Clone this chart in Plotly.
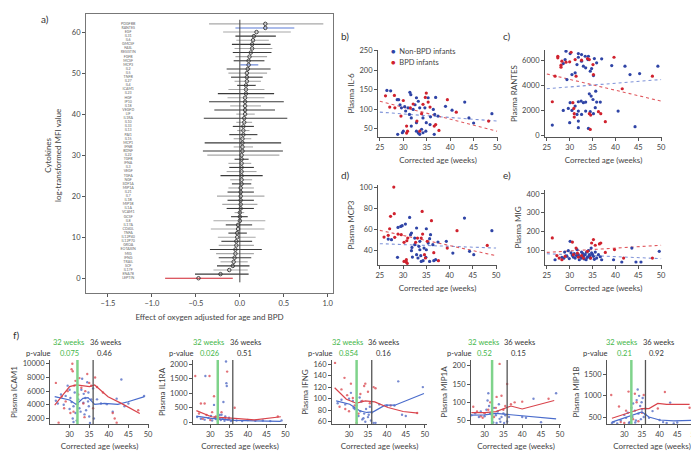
import plotly.graph_objects as go

W, H = 699, 454
FONT = "Lato"
BLUE = "#2f44a6"
RED = "#d0222e"
GREEN = "#43b649"

# ---------------- panel a: effect estimates per cytokine (bottom -> top)
cytokines = ["LEPTIN", "ENA78", "IL17F", "SCF", "TRAIL", "IFNG", "MIG", "EOTAXIN", "GROA",
             "IL12P70", "IL12P40", "TNFA", "CD40L", "IL17A", "IL8", "GCSF", "VCAM1", "IL1A",
             "MIP1B", "IL1B", "IL7", "IL21", "MIP1A", "SDF1A", "NGF", "TGFA", "VEGF", "IL3",
             "IFNA", "TGFB", "IL22", "BDNF", "IFNB", "MCP1", "IL15", "PAI1", "IL13", "IL33",
             "IL10", "IL1RA", "LIF", "VEGFD", "IL18", "IP10", "HGF", "IL23", "ICAM1", "IL4",
             "IL27", "TNFB", "IL5", "IL2", "MCP3", "MCSF", "FGFB", "RESISTIN", "FASL", "GMCSF",
             "IL6", "IL31", "EGF", "RANTES", "PDGFBB"]
estimate = [-0.47, -0.22, -0.12, -0.08, -0.07, -0.06, -0.05, -0.05, -0.04, -0.04, -0.03, -0.03,
            -0.02, -0.02, 0.00, 0.00, 0.00, 0.01, 0.01, 0.01, 0.01, 0.01, 0.01, 0.02, 0.02, 0.02,
            0.02, 0.02, 0.02, 0.02, 0.02, 0.03, 0.03, 0.03, 0.03, 0.04, 0.04, 0.04, 0.05, 0.05,
            0.06, 0.06, 0.06, 0.06, 0.06, 0.07, 0.07, 0.07, 0.08, 0.08, 0.08, 0.09, 0.10, 0.10,
            0.11, 0.125, 0.14, 0.14, 0.15, 0.16, 0.19, 0.29, 0.29]
ci_low = [-0.85, -0.51, -0.30, -0.26, -0.22, -0.24, -0.27, -0.34, -0.24, -0.21, -0.25, -0.13,
          -0.33, -0.16, -0.30, -0.10, -0.06, -0.15, -0.20, -0.14, -0.26, -0.14, -0.13, -0.09,
          -0.11, -0.22, -0.15, -0.12, -0.13, -0.06, -0.37, -0.42, -0.07, -0.40, -0.07, -0.12,
          -0.03, -0.08, -0.04, -0.41, -0.04, -0.29, -0.11, -0.35, -0.14, -0.25, -0.13, -0.03,
          -0.06, -0.10, -0.13, -0.15, 0.005, -0.07, -0.05, -0.08, -0.06, -0.09, -0.04, -0.05,
          -0.19, -0.05, -0.35]
ci_high = [-0.08, 0.10, 0.09, 0.11, 0.09, 0.13, 0.16, 0.25, 0.16, 0.14, 0.18, 0.08, 0.28, 0.14,
           0.29, 0.09, 0.05, 0.16, 0.20, 0.16, 0.28, 0.16, 0.16, 0.13, 0.14, 0.26, 0.19, 0.16,
           0.13, 0.10, 0.45, 0.49, 0.15, 0.47, 0.13, 0.20, 0.11, 0.16, 0.14, 0.54, 0.17, 0.40,
           0.24, 0.50, 0.28, 0.39, 0.28, 0.18, 0.24, 0.26, 0.31, 0.35, 0.21, 0.28, 0.31, 0.36,
           0.37, 0.35, 0.33, 0.41, 0.58, 0.62, 0.95]

# ---------------- panels b-e: plasma level vs corrected age  [age, value]
il6_nonbpd = [[26.5, 148], [27.3, 147], [28.7, 124], [29.0, 124], [29.3, 111], [29.6, 103], [30.3, 106],
              [31.4, 143], [31.6, 137], [31.0, 103], [32.5, 111], [32.1, 99], [31.3, 86], [31.7, 77],
              [32.8, 129], [33.2, 120], [33.5, 103], [34.6, 103], [34.2, 77], [35.3, 129], [34.9, 65],
              [32.8, 65], [31.7, 56], [30.0, 43], [29.8, 39], [28.8, 35], [32.8, 43], [33.2, 38],
              [33.5, 35], [34.2, 39], [34.8, 43], [35.7, 60], [36.4, 99], [36.7, 86], [36.6, 35],
              [37.4, 82], [36.9, 130], [39.0, 107], [40.4, 97], [43.1, 118], [44.0, 77], [45.0, 64],
              [48.9, 88], [33.9, 48], [30.5, 95], [35.8, 80]]
il6_bpd = [[26.2, 134], [27.1, 105], [28.1, 135], [28.2, 103], [29.5, 82], [30.0, 122], [30.7, 56],
           [30.7, 38], [30.9, 43], [31.5, 103], [32.1, 113], [32.9, 69], [33.5, 43], [34.2, 112],
           [34.7, 130], [34.9, 141], [35.3, 118], [35.7, 105], [36.6, 56], [36.9, 60], [37.6, 45],
           [39.4, 124], [41.3, 92], [48.2, 69], [33.9, 88]]
rantes_nonbpd = [[29.2, 6720], [30.1, 6530], [31.9, 6530], [31.9, 6240], [32.6, 6450], [33.4, 6320],
                 [34.1, 6320], [34.0, 6050], [32.6, 5920], [35.4, 6130], [35.9, 5790], [37.0, 6110],
                 [29.0, 6050], [28.6, 5730], [31.6, 5650], [33.0, 5520], [33.5, 5390], [34.8, 5330],
                 [34.5, 5120], [35.2, 4770], [30.5, 4850], [31.2, 4990], [29.4, 4450], [39.2, 5570],
                 [42.1, 5520], [43.2, 4850], [45.3, 4930], [49.3, 5520], [34.3, 3300], [34.7, 3120],
                 [35.1, 2850], [32.5, 2720], [33.0, 2590], [33.5, 2640], [30.1, 2590], [31.2, 2320],
                 [31.9, 2670], [29.7, 2130], [28.6, 1970], [30.5, 1970], [31.9, 1920], [33.5, 1920],
                 [34.5, 1870], [35.2, 1710], [35.9, 2640], [36.7, 2640], [35.6, 2190], [40.6, 1920],
                 [30.0, 990], [26.2, 800], [31.6, 1650], [31.9, 1120], [31.9, 590], [34.1, 530],
                 [44.3, 670], [35.7, 3520], [32.6, 1650]]
rantes_bpd = [[27.4, 6320], [27.4, 6190], [28.3, 5920], [28.1, 5600], [28.1, 5440], [29.2, 5840],
              [30.0, 5870], [30.3, 6640], [31.2, 6050], [32.6, 6000], [33.9, 6130], [34.3, 6050],
              [35.1, 5650], [35.2, 4850], [31.4, 4720], [26.8, 4720], [26.2, 2670], [30.7, 2590],
              [30.9, 2130], [31.0, 1710], [31.0, 1440], [34.3, 1710], [34.6, 1600], [34.5, 450],
              [36.3, 1870], [36.8, 1710], [37.8, 1070], [39.7, 6240], [41.5, 3710], [48.1, 4720]]
mcp3_nonbpd = [[26.8, 51.0], [27.5, 50.4], [28.8, 33.7], [28.9, 62.0], [29.5, 62.9], [29.8, 63.6],
               [30.5, 65.1], [31.4, 71.4], [31.6, 55.1], [31.8, 56.7], [31.9, 43.1], [31.8, 40.0],
               [32.0, 34.0], [32.5, 45.7], [32.9, 36.2], [32.9, 61.4], [33.2, 33.1], [33.4, 44.1],
               [33.6, 48.8], [33.8, 35.3], [33.9, 29.9], [34.3, 30.6], [34.5, 42.5], [34.9, 33.7],
               [35.0, 40.9], [35.0, 60.7], [35.4, 47.2], [35.7, 51.3], [35.9, 55.1], [36.4, 45.7],
               [36.6, 30.6], [37.0, 31.5], [37.5, 48.2], [35.7, 29.9], [39.3, 48.8], [40.7, 37.8],
               [43.2, 70.8], [44.3, 39.4], [45.2, 36.2], [49.1, 58.9], [32.5, 51.9], [33.6, 40.9]]
mcp3_bpd = [[28.0, 100], [28.1, 74.9], [27.3, 72.4], [27.1, 60.7], [25.9, 52.9], [26.8, 54.5],
            [28.2, 52.6], [28.9, 55.7], [29.6, 55.1], [30.2, 47.9], [30.8, 49.4], [31.0, 51.9],
            [30.7, 31.5], [30.7, 29.3], [30.9, 28.1], [32.7, 47.9], [33.1, 51.9], [33.9, 51.9],
            [34.1, 77.1], [34.2, 55.7], [34.6, 36.2], [34.8, 33.1], [35.2, 48.8], [36.1, 68.3],
            [36.6, 38.1], [37.6, 30.6], [39.5, 42.5], [41.6, 58.9], [48.1, 45.0], [30.2, 29.9]]
mig_nonbpd = [[26.8, 50], [28.9, 91], [29.7, 98], [30.1, 148], [30.8, 64], [31.2, 59], [31.6, 104],
              [31.9, 77], [32.1, 50], [32.6, 91], [33.0, 68], [33.4, 77], [33.6, 50], [34.1, 98],
              [34.3, 77], [34.5, 59], [34.7, 112], [34.8, 86], [35.2, 68], [35.6, 91], [35.9, 59],
              [36.3, 77], [37.0, 50], [39.6, 50], [41.4, 38], [43.6, 112], [44.5, 38], [45.6, 38],
              [49.6, 95], [28.3, 63], [29.4, 68], [30.3, 86], [32.6, 59], [33.8, 62], [31.5, 72],
              [32.9, 83], [33.2, 54], [34.0, 66], [35.0, 78], [35.4, 52], [30.6, 73], [29.9, 56],
              [32.3, 66], [33.7, 90], [36.7, 66], [31.0, 82], [28.7, 58], [34.4, 70]]
mig_bpd = [[26.2, 166], [27.2, 72], [27.7, 59], [28.3, 50], [29.0, 68], [30.6, 144], [30.8, 77],
           [31.4, 112], [31.9, 64], [33.0, 59], [33.9, 95], [34.6, 59], [34.8, 139], [35.2, 157],
           [35.6, 127], [36.5, 134], [36.8, 139], [37.8, 89], [39.8, 104], [41.8, 59], [48.1, 59],
           [31.7, 85], [32.6, 72]]

# linear trends read at ages 25 and 50
trend_age = [25, 50]
il6_trend = {"nonbpd": [92, 69], "bpd": [120, 43]}
rantes_trend = {"nonbpd": [3710, 4450], "bpd": [4900, 2720]}
mcp3_trend = {"nonbpd": [46.6, 42.5], "bpd": [59.2, 35.3]}
mig_trend = {"nonbpd": [82, 56], "bpd": [89, 127]}

# ---------------- panel f: smoothed curves, points and p-values
icam1_pts_bpd = [[26.5, 7200], [27.2, 1400], [28, 5200], [28.6, 3500], [29.5, 6000], [30.2, 2800],
                 [30.5, 9200], [30.7, 10000], [30.8, 8900], [31.2, 6800], [31.5, 7500], [32.2, 5500],
                 [32.5, 7900], [33, 6500], [33.5, 4200], [34, 6000], [34.5, 8500], [35, 7200],
                 [35.5, 6800], [36.5, 8000], [37, 6600], [38.5, 5800], [41, 2800], [41.5, 2000],
                 [42, 1400], [47.5, 3200], [29, 4500], [31, 3000], [33.8, 2200], [36, 3500]]
icam1_pts_nonbpd = [[26.5, 4600], [27, 4200], [27.8, 5500], [28.5, 4000], [29, 5300], [29.5, 6800],
                    [30, 3400], [30.2, 5000], [30.5, 4400], [30.8, 2000], [31, 3800], [31.3, 5800],
                    [31.5, 2800], [31.8, 1700], [32, 4100], [32.2, 4800], [32.5, 3500], [32.8, 3000],
                    [33, 6200], [33.2, 7800], [33.5, 4300], [33.8, 2600], [34, 5000], [34.2, 3200],
                    [34.5, 7300], [34.7, 4500], [34.8, 5800], [35, 2300], [35.2, 1350], [35.5, 4800],
                    [36, 6400], [36.2, 2000], [37, 4800], [38, 4200], [39.5, 4100], [41, 3000],
                    [42, 4900], [43.2, 7700], [44, 3800], [45, 4200], [49, 5300], [30, 6200],
                    [31, 1500], [33.6, 5600], [34.9, 3800]]
icam1_curve_bpd = [[26.2, 3960], [30, 6660], [31.7, 6900], [35.1, 6660], [36.4, 6900], [39.8, 5190],
                   [43.2, 4210], [47.9, 2740]]
icam1_curve_nonbpd = [[26.2, 5190], [30, 4700], [31.7, 4060], [33.4, 4940], [34.7, 5040], [36.4, 4060],
                      [38.9, 4210], [42.3, 4060], [44.9, 4450], [49.1, 5190]]

il1ra_pts_bpd = [[26, 1600], [27.5, 650], [28.5, 650], [29.8, 1600], [34.5, 1750], [31, 900],
                 [30.5, 350], [33, 350], [48, 200], [27, 300], [29, 250], [31.5, 200], [34, 150],
                 [36.5, 500], [32.5, 120], [30, 80], [35, 100], [28, 120]]
il1ra_pts_nonbpd = [[34.2, 2100], [34.3, 1350], [34.4, 1250], [33.5, 700], [28.7, 1600], [31, 600],
                    [32.5, 250], [33, 260], [26.5, 180], [27.5, 120], [28.5, 90], [29.5, 150],
                    [30.5, 60], [31.5, 110], [32, 40], [32.8, 80], [33.3, 130], [33.8, 50],
                    [34.6, 90], [35, 160], [35.5, 40], [36, 70], [37, 60], [38.5, 40], [40, 80],
                    [42, 50], [44, 60], [46, 40], [49, 60], [31.2, 170], [34, 200], [30.2, 220]]
il1ra_curve_bpd = [[26.3, 400], [30.3, 190], [36.5, 137], [41.8, 84], [48.8, 190]]
il1ra_curve_nonbpd = [[26.3, 210], [30.3, 137], [36.5, 63], [48.8, 32]]

ifng_pts_bpd = [[26.3, 162], [28.8, 136], [28, 116], [29.5, 106], [30.5, 126], [31, 101], [31.5, 88],
                [32, 58], [33, 108], [33.5, 96], [34, 122], [34.3, 126], [35, 112], [35.5, 92],
                [36.5, 120], [37, 118], [29, 82], [27.5, 86], [41, 88], [48, 75], [32.5, 74], [30, 78]]
ifng_pts_nonbpd = [[27, 92], [28, 98], [29, 90], [30, 100], [30.5, 110], [31, 96], [31.5, 82],
                   [32, 88], [32.5, 70], [33, 78], [33.2, 95], [33.5, 64], [34, 74], [34.3, 60],
                   [34.5, 82], [35, 68], [35.2, 72], [35.5, 86], [36, 76], [36.5, 58], [37, 58],
                   [38, 90], [40, 88], [42, 88], [43, 130], [44, 72], [45, 70], [49.5, 120],
                   [31.2, 84], [32.8, 102], [33.8, 66], [35.8, 62]]
ifng_curve_bpd = [[26.2, 118.9], [29.3, 98.9], [31.9, 92], [34.3, 96], [36.8, 94.3], [40.3, 84.6],
                  [44.3, 77.7], [48.2, 74.9]]
ifng_curve_nonbpd = [[26.6, 96], [30.2, 90.3], [32.8, 78.9], [34.7, 76], [36.4, 77.1], [39.5, 88.6],
                     [42.1, 88.6], [49.8, 109]]

mip1a_pts_bpd = [[27, 88], [28, 75], [29, 62], [30, 70], [31, 80], [31.5, 100], [32, 65], [33, 85],
                 [34, 205], [34.5, 118], [35, 80], [36, 150], [37, 95], [38, 100], [40, 102],
                 [47, 110], [29.5, 58], [32.5, 60], [35.5, 90], [33.2, 115]]
mip1a_pts_nonbpd = [[26.5, 65], [27.5, 70], [28.5, 60], [29, 75], [30, 62], [30.5, 80], [31, 125],
                    [31.2, 90], [31.5, 70], [32, 55], [32.3, 45], [32.5, 85], [33, 65], [33.2, 44],
                    [33.5, 75], [34, 55], [34.2, 47], [34.5, 60], [35, 70], [35.5, 65], [36, 48],
                    [36.5, 60], [40, 60], [41, 58], [43, 110], [45, 46], [49, 125], [30.8, 105],
                    [33.8, 95], [35.2, 44]]
mip1a_curve_bpd = [[26.5, 72], [30, 72], [33, 75], [35, 82], [37, 90], [40, 82], [45, 95], [48.5, 105]]
mip1a_curve_nonbpd = [[26.5, 65], [30, 66], [33, 70], [35, 68], [38, 66], [42, 62], [46, 58], [49, 55]]

mip1b_pts_bpd = [[26.3, 1020], [28.5, 750], [29, 380], [30.5, 650], [31.2, 1100], [32, 500],
                 [32.5, 450], [33, 1050], [34, 400], [35, 600], [35.5, 1020], [36, 700], [39.5, 700],
                 [41.5, 1090], [48.5, 720], [30, 360], [33.5, 850]]
mip1b_pts_nonbpd = [[26.5, 360], [27, 380], [28, 350], [29, 420], [30, 550], [30.5, 480], [31, 600],
                    [31.5, 380], [32, 720], [32.3, 500], [32.5, 820], [33, 650], [33.3, 420],
                    [33.5, 900], [33.8, 1150], [34, 580], [34.2, 1000], [34.5, 760], [34.7, 450],
                    [35, 680], [35.2, 950], [35.5, 500], [36, 560], [37, 480], [38, 640], [40, 430],
                    [41, 380], [42, 360], [43, 840], [44, 350], [45, 370], [49.5, 600], [31.3, 360],
                    [33.1, 370], [34.9, 850]]
mip1b_curve_bpd = [[26.5, 470], [30, 560], [33, 640], [35, 700], [37, 700], [39.5, 820], [42, 800],
                   [48.5, 800]]
mip1b_curve_nonbpd = [[26.5, 380], [30, 480], [33, 580], [35, 620], [37, 500], [40, 430], [44, 410],
                      [49, 420]]

f_names = ["ICAM1", "IL1RA", "IFNG", "MIP1A", "MIP1B"]
p_32 = ["0.075", "0.026", "0.854", "0.52", "0.21"]
p_36 = ["0.46", "0.51", "0.16", "0.15", "0.92"]


# ---------------- helpers
def dx(left, right):
    return [left / W, right / W]


def dy(top, bottom):
    return [1 - bottom / H, 1 - top / H]


def ax(domain, rng, anchor, tickvals, title=None, mirror=False, fmt=None, standoff=3):
    d = dict(domain=domain, range=rng, anchor=anchor, showline=True, linecolor="#555",
             linewidth=1, mirror=mirror, ticks="outside", ticklen=3, tickcolor="#555",
             tickfont=dict(size=7.5, color="#444"), showgrid=False, zeroline=False,
             tickvals=tickvals, automargin=False, tickformat=fmt or "d")
    if title:
        d["title"] = dict(text=title, font=dict(size=8, color="#444"), standoff=standoff)
    return d


def xs(pts):
    return [p[0] for p in pts]


def ys(pts):
    return [p[1] for p in pts]


fig = go.Figure()
layout = dict(width=W, height=H, margin=dict(l=0, r=0, t=0, b=0), showlegend=False,
              plot_bgcolor="white", paper_bgcolor="white",
              font=dict(family=FONT, color="#333"))

# ---------------- panel a
layout["xaxis"] = ax(dx(78, 325), [-1.75, 1.06], "y", [-1.5, -1.0, -0.5, 0.0, 0.5, 1.0],
                     "Effect of oxygen adjusted for age and BPD", mirror=True, fmt=".1f", standoff=7)
layout["yaxis"] = ax(dy(6, 285), [-3.6, 64.4], "x", [0, 10, 20, 30, 40, 50, 60], mirror=True)
layout["xaxis"]["linecolor"] = "#777"
layout["yaxis"]["linecolor"] = "#777"

highlight = {"LEPTIN": RED, "RANTES": "#5b7bd6", "MCP3": "#5b7bd6"}
groups = {}
for i, name in enumerate(cytokines):
    col = highlight.get(name, "#3a3a3a" if i % 2 else "#a8a8a8")
    gx, gy = groups.setdefault(col, ([], []))
    gx += [ci_low[i], ci_high[i], None]
    gy += [i, i, None]
for col, (gx, gy) in groups.items():
    fig.add_trace(go.Scatter(x=gx, y=gy, mode="lines", line=dict(color=col, width=1.1),
                             xaxis="x", yaxis="y", hoverinfo="skip"))
fig.add_trace(go.Scatter(x=estimate, y=list(range(len(cytokines))), mode="markers",
                         marker=dict(symbol="circle-open", size=3.5, color="#333",
                                     line=dict(width=0.9)),
                         xaxis="x", yaxis="y"))
fig.add_trace(go.Scatter(x=[-1.27] * len(cytokines), y=list(range(len(cytokines))), mode="text",
                         text=cytokines, textfont=dict(size=3.6, color="#666"),
                         xaxis="x", yaxis="y", hoverinfo="skip"))

shapes = [dict(type="line", xref="x", yref="y", x0=0, x1=0, y0=-1, y1=63,
               line=dict(color="#444", width=1))]
annotations = [
    dict(text="Cytokines<br>log-transformed MFI value", x=45 / W, y=1 - 148 / H, xref="paper",
         yref="paper", xanchor="center", yanchor="middle", textangle=-90, showarrow=False,
         font=dict(size=8, color="#444")),
]

# ---------------- panels b-e
age_ticks = [25, 30, 35, 40, 45, 50]
panels = [
    ("2", il6_nonbpd, il6_bpd, il6_trend, dx(370, 490), dy(42, 129), [28, 252],
     [50, 100, 150, 200, 250], "Plasma IL-6"),
    ("3", rantes_nonbpd, rantes_bpd, rantes_trend, dx(537, 654), dy(42, 129), [-160, 6820],
     [0, 2000, 4000, 6000], "Plasma RANTES"),
    ("4", mcp3_nonbpd, mcp3_bpd, mcp3_trend, dx(370, 489), dy(177, 257), [26.5, 102],
     [40, 60, 80, 100], "Plasma MCP3"),
    ("5", mig_nonbpd, mig_bpd, mig_trend, dx(537, 654), dy(182, 257), [22, 421],
     [100, 200, 300, 400], "Plasma MIG"),
]
for k, nb, bp, tr, xd, yd, yr, yt, ytitle in panels:
    layout["xaxis" + k] = ax(xd, [24.6, 50.2], "y" + k, age_ticks, "Corrected age (weeks)", standoff=6)
    layout["yaxis" + k] = ax(yd, yr, "x" + k, yt, ytitle)
    fig.add_trace(go.Scatter(x=trend_age, y=tr["nonbpd"], mode="lines",
                             line=dict(color="#7f93d8", width=1.1, dash="dot"),
                             xaxis="x" + k, yaxis="y" + k))
    fig.add_trace(go.Scatter(x=trend_age, y=tr["bpd"], mode="lines",
                             line=dict(color="#e0585e", width=1.1, dash="dot"),
                             xaxis="x" + k, yaxis="y" + k))
    fig.add_trace(go.Scatter(x=xs(nb), y=ys(nb), mode="markers",
                             marker=dict(color=BLUE, size=3.2), xaxis="x" + k, yaxis="y" + k))
    fig.add_trace(go.Scatter(x=xs(bp), y=ys(bp), mode="markers",
                             marker=dict(color=RED, size=3.2), xaxis="x" + k, yaxis="y" + k))

# legend of panel b
for label, col, ypx in [("Non-BPD infants", BLUE, 44), ("BPD infants", RED, 54)]:
    annotations.append(dict(text='<span style="color:%s">●</span>  %s' % (col, label),
                            x=381 / W, y=1 - ypx / H, xref="paper", yref="paper",
                            xanchor="left", yanchor="middle", showarrow=False,
                            font=dict(size=7.5, color="#444")))

# ---------------- panel f
f_data = [
    (icam1_pts_nonbpd, icam1_pts_bpd, icam1_curve_nonbpd, icam1_curve_bpd, dx(42, 141), [25, 50.25],
     [1200, 10545], [2000, 4000, 6000, 8000, 10000]),
    (il1ra_pts_nonbpd, il1ra_pts_bpd, il1ra_curve_nonbpd, il1ra_curve_bpd, dx(185, 279), [25.4, 50.45],
     [-60, 2150], [0, 500, 1000, 1500, 2000]),
    (ifng_pts_nonbpd, ifng_pts_bpd, ifng_curve_nonbpd, ifng_curve_bpd, dx(324, 419), [25.5, 50.6],
     [56, 167], [60, 80, 100, 120, 140, 160]),
    (mip1a_pts_nonbpd, mip1a_pts_bpd, mip1a_curve_nonbpd, mip1a_curve_bpd, dx(463, 553), [26.4, 50.3],
     [41, 215.6], [50, 100, 150, 200]),
    (mip1b_pts_nonbpd, mip1b_pts_bpd, mip1b_curve_nonbpd, mip1b_curve_bpd, dx(599, 689), [25.1, 50.6],
     [335, 1847], [500, 1000, 1500]),
]
f_dom_y = dy(352, 416)
for j, (nb, bp, cn, cb, xd, xr, yr, yt) in enumerate(f_data):
    k = str(6 + j)
    layout["xaxis" + k] = ax(xd, xr, "y" + k, [30, 35, 40, 45, 50], "Corrected age (weeks)", standoff=5)
    layout["yaxis" + k] = ax(f_dom_y, yr, "x" + k, yt, "Plasma " + f_names[j])
    shapes.append(dict(type="line", xref="x" + k, yref="y" + k + " domain", x0=32, x1=32, y0=0,
                       y1=1, line=dict(color="#7fd38b", width=2.5)))
    shapes.append(dict(type="line", xref="x" + k, yref="y" + k + " domain", x0=36, x1=36, y0=0,
                       y1=1, line=dict(color="#555", width=1.3)))
    fig.add_trace(go.Scatter(x=xs(nb), y=ys(nb), mode="markers",
                             marker=dict(color="#4a63c0", size=2.4, opacity=0.75),
                             xaxis="x" + k, yaxis="y" + k))
    fig.add_trace(go.Scatter(x=xs(bp), y=ys(bp), mode="markers",
                             marker=dict(color="#d9434b", size=2.4, opacity=0.75),
                             xaxis="x" + k, yaxis="y" + k))
    fig.add_trace(go.Scatter(x=xs(cn), y=ys(cn), mode="lines", line=dict(color="#4a6ccc", width=1.2),
                             xaxis="x" + k, yaxis="y" + k))
    fig.add_trace(go.Scatter(x=xs(cb), y=ys(cb), mode="lines", line=dict(color="#d9434b", width=1.2),
                             xaxis="x" + k, yaxis="y" + k))
    f_font = dict(size=7.5, color="#333")
    annotations += [
        dict(text="32 weeks", x=34.3, xref="x" + k, y=1 - 334 / H, yref="paper", xanchor="right",
             yanchor="middle", showarrow=False, font=dict(size=7.5, color=GREEN)),
        dict(text="36 weeks", x=34.6, xref="x" + k, y=1 - 334 / H, yref="paper", xanchor="left",
             yanchor="middle", showarrow=False, font=f_font),
        dict(text="p-value", x=0.02, xref="x" + k + " domain", y=1 - 345 / H, yref="paper",
             xanchor="right", yanchor="middle", showarrow=False, font=f_font),
        dict(text=p_32[j], x=30, xref="x" + k, y=1 - 345 / H, yref="paper", xanchor="center",
             yanchor="middle", showarrow=False, font=dict(size=7.5, color=GREEN)),
        dict(text=p_36[j], x=39, xref="x" + k, y=1 - 345 / H, yref="paper", xanchor="center",
             yanchor="middle", showarrow=False, font=f_font),
    ]

# panel letters
for letter, xp, yp in [("a)", 37, 11), ("b)", 337, 28), ("c)", 499, 28), ("d)", 337, 167),
                       ("e)", 499, 167), ("f)", 8, 327)]:
    annotations.append(dict(text=letter, x=xp / W, y=1 - yp / H, xref="paper", yref="paper",
                            xanchor="center", yanchor="middle", showarrow=False,
                            font=dict(size=10, color="#333")))

layout["shapes"] = shapes
layout["annotations"] = annotations
fig.update_layout(**layout)
fig.write_html("out.html")
